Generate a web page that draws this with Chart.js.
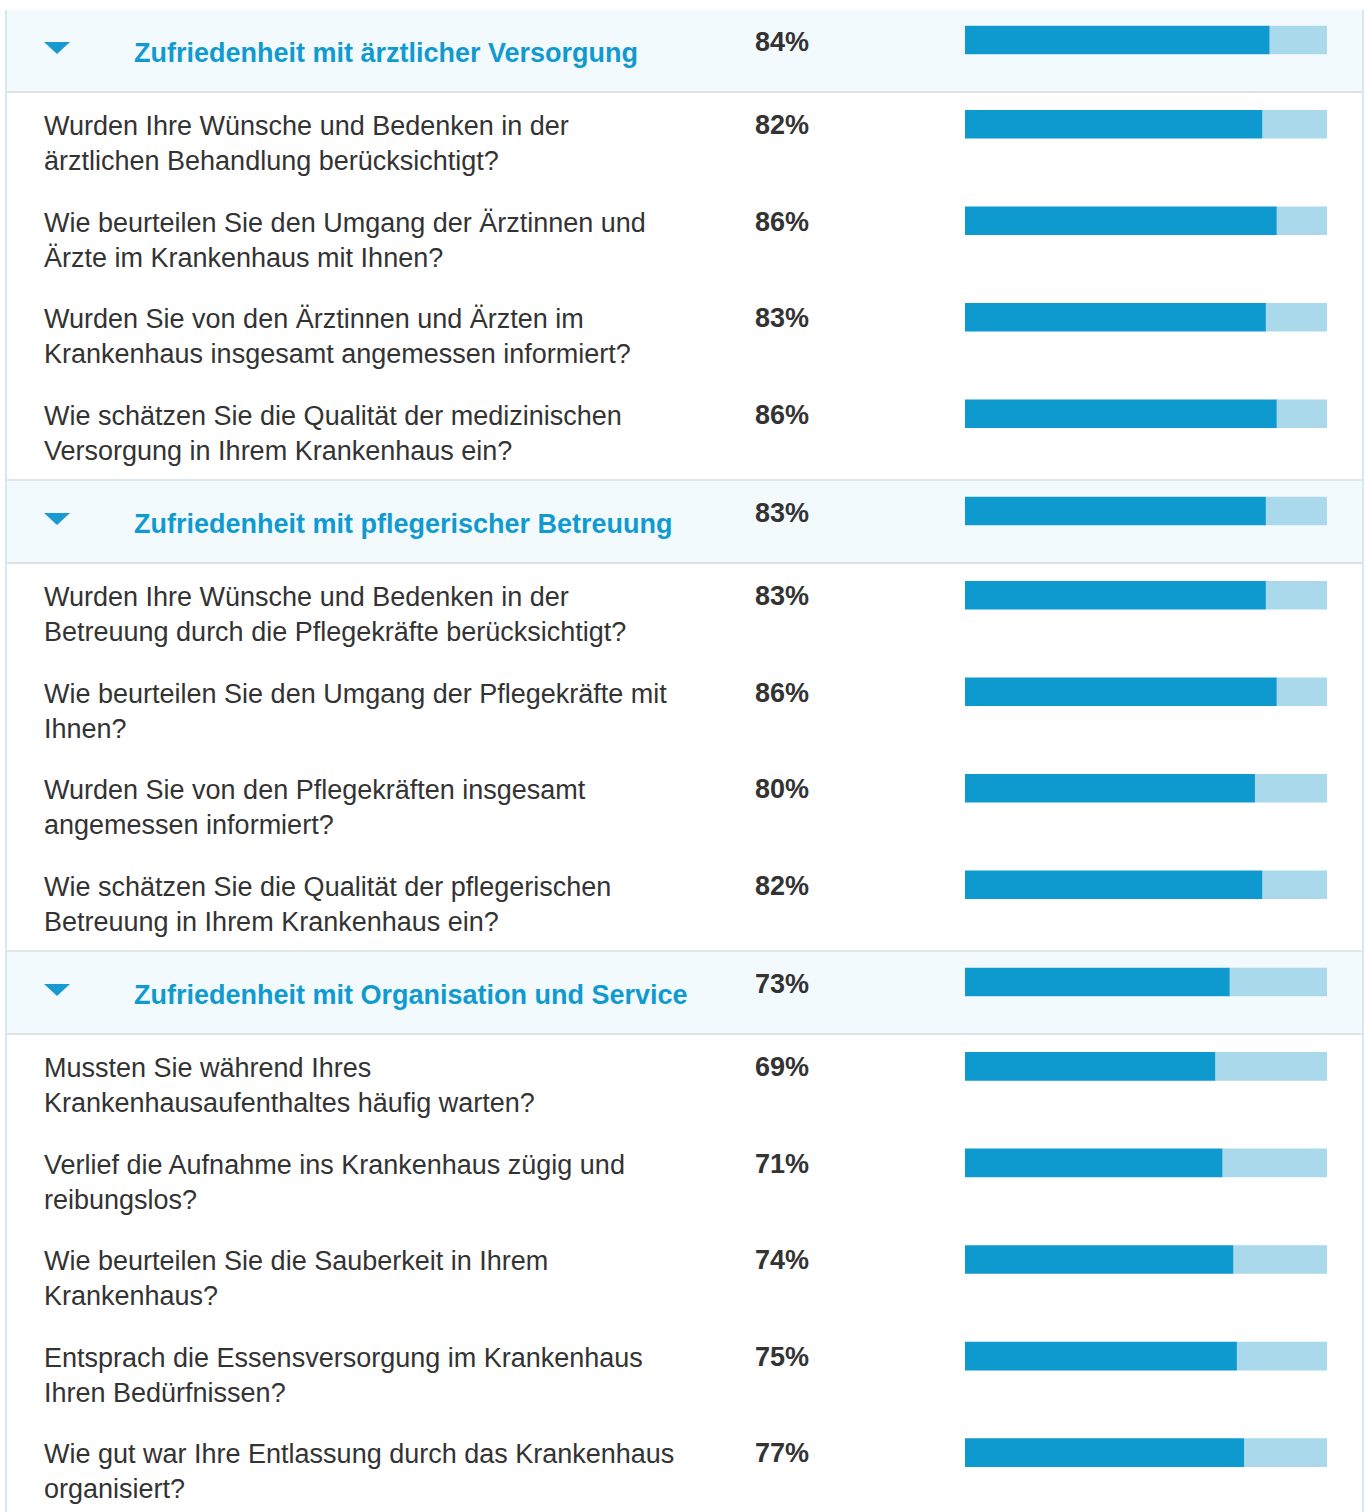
<!DOCTYPE html>
<html lang="de">
<head>
<meta charset="utf-8">
<title>Zufriedenheit</title>
<script src="https://cdn.jsdelivr.net/npm/chart.js@4.4.1/dist/chart.umd.min.js"></script>
<style>
    html, body { margin: 0; padding: 0; background: #fff; }
    body { width: 1365px; height: 1512px; overflow: hidden; position: relative;
           font-family: "Liberation Sans", Arial, sans-serif; color: #333; }
    #wrap { position: absolute; left: 5px; top: 10px; width: 1355px;
            border-left: 2px solid #d3eaf4; border-right: 2px solid #d3eaf4; }
    .head { position: relative; height: 81px; background: #f3fafe; border-bottom: 2px solid #dfe2e5; }
    .head.next { border-top: 2px solid #e3e7ea; }
    .arrow { position: absolute; left: 37px; top: 32px; width: 0; height: 0;
             border-left: 13px solid transparent; border-right: 13px solid transparent;
             border-top: 12px solid #1a9ad2; }
    .title { position: absolute; left: 127px; top: 26px; font-size: 27px; line-height: 35px;
             font-weight: bold; color: #119ad0; white-space: nowrap; }
    .pct { position: absolute; left: 748px; font-size: 27px; line-height: 35px; font-weight: bold; color: #333; }
    .head .pct { top: 15px; }
    .items { position: relative; }
    .row { position: relative; height: 96.5px; }
    .row .pct { top: 15px; }
    .label { position: absolute; left: 37px; top: 16px; font-size: 27px; line-height: 35px;
             white-space: pre-line; color: #333; }
    .bars { position: absolute; left: 958px; }
</style>
</head>
<body>
<div id="wrap"></div>
<script>
var sectionTitles = [
    'Zufriedenheit mit ärztlicher Versorgung',
    'Zufriedenheit mit pflegerischer Betreuung',
    'Zufriedenheit mit Organisation und Service'
];
var sectionValues = [84, 83, 73];

var arztLabels = [
    'Wurden Ihre Wünsche und Bedenken in der\närztlichen Behandlung berücksichtigt?',
    'Wie beurteilen Sie den Umgang der Ärztinnen und\nÄrzte im Krankenhaus mit Ihnen?',
    'Wurden Sie von den Ärztinnen und Ärzten im\nKrankenhaus insgesamt angemessen informiert?',
    'Wie schätzen Sie die Qualität der medizinischen\nVersorgung in Ihrem Krankenhaus ein?'
];
var arztValues = [82, 86, 83, 86];

var pflegeLabels = [
    'Wurden Ihre Wünsche und Bedenken in der\nBetreuung durch die Pflegekräfte berücksichtigt?',
    'Wie beurteilen Sie den Umgang der Pflegekräfte mit\nIhnen?',
    'Wurden Sie von den Pflegekräften insgesamt\nangemessen informiert?',
    'Wie schätzen Sie die Qualität der pflegerischen\nBetreuung in Ihrem Krankenhaus ein?'
];
var pflegeValues = [83, 86, 80, 82];

var serviceLabels = [
    'Mussten Sie während Ihres\nKrankenhausaufenthaltes häufig warten?',
    'Verlief die Aufnahme ins Krankenhaus zügig und\nreibungslos?',
    'Wie beurteilen Sie die Sauberkeit in Ihrem\nKrankenhaus?',
    'Entsprach die Essensversorgung im Krankenhaus\nIhren Bedürfnissen?',
    'Wie gut war Ihre Entlassung durch das Krankenhaus\norganisiert?'
];
var serviceValues = [69, 71, 74, 75, 77];

var scaleMax = 100;
var barColor = '#0f9acf';
var restColor = '#a9d9ea';

var BAR_WIDTH = 362;
var ROW_HEIGHT = 96.5;

function MakeBarChart(canvas, labels, values) {
    var rest = values.map(function (v) { return scaleMax - v; });
    return new Chart(canvas, {
        type: 'bar',
        data: {
            labels: labels,
            datasets: [{
                data: values,
                backgroundColor: barColor,
                borderWidth: 0,
                barThickness: 28
            }, {
                data: rest,
                backgroundColor: restColor,
                borderWidth: 0,
                barThickness: 28
            }]
        },
        options: {
            indexAxis: 'y',
            responsive: false,
            animation: false,
            events: [],
            layout: { padding: 0 },
            plugins: {
                legend: { display: false },
                tooltip: { enabled: false }
            },
            scales: {
                x: { stacked: true, min: 0, max: scaleMax, display: false },
                y: { stacked: true, display: false }
            }
        }
    });
}

function AddCanvas(parent, top, height) {
    var c = document.createElement('canvas');
    c.className = 'bars';
    c.width = BAR_WIDTH;
    c.height = height;
    c.style.top = top + 'px';
    c.style.width = BAR_WIDTH + 'px';
    c.style.height = height + 'px';
    parent.appendChild(c);
    return c;
}

function AddSection(index, labels, values) {
    var wrap = document.getElementById('wrap');

    var head = document.createElement('div');
    head.className = index > 0 ? 'head next' : 'head';
    head.innerHTML = '<div class="arrow"></div>' +
        '<div class="title"></div><div class="pct"></div>';
    head.querySelector('.title').textContent = sectionTitles[index];
    head.querySelector('.pct').textContent = sectionValues[index] + '%';
    wrap.appendChild(head);
    MakeBarChart(AddCanvas(head, 0, 60), [sectionTitles[index]], [sectionValues[index]]);

    var items = document.createElement('div');
    items.className = 'items';
    $each(labels, function (i, text) {
        var row = document.createElement('div');
        row.className = 'row';
        row.innerHTML = '<div class="label"></div><div class="pct"></div>';
        row.querySelector('.label').textContent = text;
        row.querySelector('.pct').textContent = values[i] + '%';
        items.appendChild(row);
    });
    wrap.appendChild(items);
    MakeBarChart(AddCanvas(items, -17, Math.round(labels.length * ROW_HEIGHT)), labels, values);
}

function $each(list, fn) {
    for (var i = 0; i < list.length; i++) fn(i, list[i]);
}

AddSection(0, arztLabels, arztValues);
AddSection(1, pflegeLabels, pflegeValues);
AddSection(2, serviceLabels, serviceValues);
</script>
</body>
</html>
